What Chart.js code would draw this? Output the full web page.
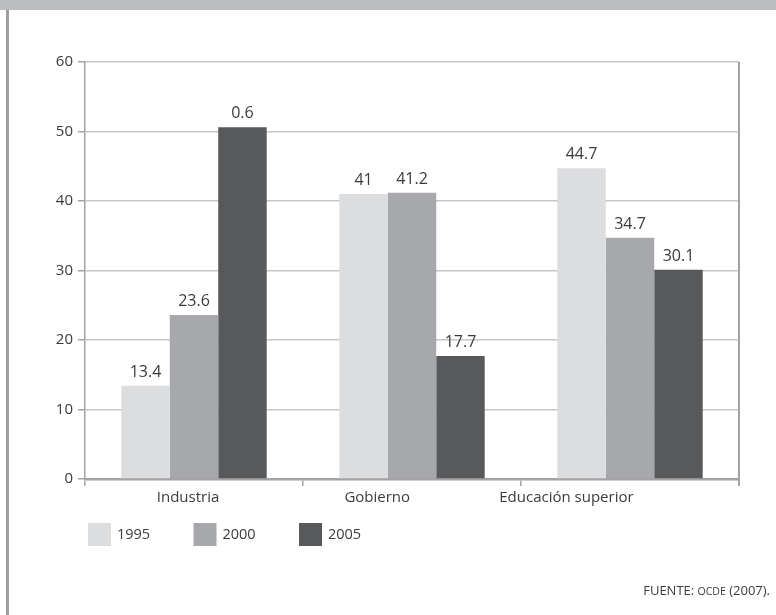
<!DOCTYPE html>
<html>
<head>
<meta charset="utf-8">
<script src="https://cdn.jsdelivr.net/npm/chart.js@4/dist/chart.umd.min.js"></script>
<style>
  html, body { margin: 0; padding: 0; background: #ffffff; }
  #wrap { position: relative; width: 776px; height: 615px; }
  canvas { display: block; }
</style>
</head>
<body>
<div id="wrap"><canvas id="c" width="776" height="615"></canvas></div>
<script>
// Sectors and yearly shares
const categories = ['Industria', 'Gobierno', 'Educación superior'];
const years = ['1995', '2000', '2005'];
const values1995 = [13.4, 41, 44.7];
const values2000 = [23.6, 41.2, 34.7];
const values2005 = [50.6, 17.7, 30.1];
// Printed value labels, as they appear above each bar
const labels1995 = ['13.4', '41', '44.7'];
const labels2000 = ['23.6', '41.2', '34.7'];
const labels2005 = ['0.6', '17.7', '30.1'];
const yTicks = [0, 10, 20, 30, 40, 50, 60];
const sourceNote = ['FUENTE: ', 'OCDE', ' (2007).'];

const FONT = '"Open Sans", "Noto Sans", sans-serif';
const TEXT = '#3b3b3b';
const colors = ['#dcdddf', '#a7a8ab', '#58595b'];

const seriesValues = [values1995, values2000, values2005];
const seriesLabels = [labels1995, labels2000, labels2005];

// Category captions sit slightly left of each group, on a tighter pitch
const CAPTION_SHIFT = -6;
const CAPTION_PITCH = 0.868;

const decorations = {
  id: 'decorations',
  beforeDraw(chart) {
    const ctx = chart.ctx;
    ctx.save();
    // header band
    ctx.fillStyle = '#bcbdc0';
    ctx.fillRect(0, 0, chart.width, 10);
    // left page rule
    ctx.fillStyle = '#9e9e9e';
    ctx.fillRect(6, 10, 3, chart.height - 10);
    ctx.restore();
  },
  afterDraw(chart) {
    const ctx = chart.ctx;
    const area = chart.chartArea;
    const xs = chart.scales.x;
    ctx.save();
    // plot frame: right edge
    ctx.strokeStyle = '#a3a3a3';
    ctx.lineWidth = 2;
    ctx.beginPath();
    ctx.moveTo(area.right, area.top);
    ctx.lineTo(area.right, area.bottom + 7);
    ctx.stroke();

    // category captions
    ctx.fillStyle = TEXT;
    ctx.font = '15px ' + FONT;
    ctx.textAlign = 'center';
    ctx.textBaseline = 'middle';
    const first = xs.getPixelForValue(0);
    const pitch = (xs.getPixelForValue(1) - first) * CAPTION_PITCH;
    chart.data.labels.forEach((lab, i) => {
      ctx.fillText(lab, first + CAPTION_SHIFT + i * pitch, area.bottom + 19);
    });

    // value labels above bars
    ctx.font = '16px ' + FONT;
    ctx.textBaseline = 'alphabetic';
    chart.data.datasets.forEach((ds, di) => {
      chart.getDatasetMeta(di).data.forEach((bar, i) => {
        ctx.fillText(seriesLabels[di][i], bar.x, bar.y - 9);
      });
    });

    // legend
    const legendY = 523;
    const startX = 88;
    const step = 105.5;
    ctx.font = '14.5px ' + FONT;
    ctx.textAlign = 'left';
    ctx.textBaseline = 'middle';
    chart.data.datasets.forEach((ds, di) => {
      const x = startX + di * step;
      ctx.fillStyle = ds.backgroundColor;
      ctx.fillRect(x, legendY, 23, 23);
      ctx.fillStyle = TEXT;
      ctx.fillText(ds.label, x + 29, legendY + 12);
    });

    // source note, right aligned
    const right = 770;
    const baseY = 595;
    ctx.textBaseline = 'alphabetic';
    const big = '13px ' + FONT;
    const small = '10.5px ' + FONT;
    ctx.font = big; const w1 = ctx.measureText(sourceNote[0]).width;
    ctx.font = small; const w2 = ctx.measureText(sourceNote[1]).width;
    ctx.font = big; const w3 = ctx.measureText(sourceNote[2]).width;
    let x = right - (w1 + w2 + w3);
    ctx.fillStyle = TEXT;
    ctx.font = big; ctx.fillText(sourceNote[0], x, baseY); x += w1;
    ctx.font = small; ctx.fillText(sourceNote[1], x, baseY); x += w2;
    ctx.font = big; ctx.fillText(sourceNote[2], x, baseY);
    ctx.restore();
  }
};

new Chart(document.getElementById('c'), {
  type: 'bar',
  data: {
    labels: categories,
    datasets: years.map((y, i) => ({
      label: y,
      data: seriesValues[i],
      backgroundColor: colors[i],
      borderWidth: 0,
      categoryPercentage: 0.667,
      barPercentage: 1.0
    }))
  },
  options: {
    responsive: false,
    animation: false,
    devicePixelRatio: 1,
    layout: { padding: { left: 0, right: 37, top: 62, bottom: 96 } },
    plugins: {
      legend: { display: false },
      tooltip: { enabled: false },
      title: { display: false }
    },
    scales: {
      x: {
        offset: true,
        grid: {
          offset: true,
          drawOnChartArea: false,
          drawTicks: true,
          tickLength: 7,
          color: '#a3a3a3',
          lineWidth: 1.5
        },
        border: { display: true, color: '#a3a3a3', width: 2.5 },
        ticks: { display: false },
        afterFit(scale) { scale.height = 40; }
      },
      y: {
        min: 0,
        max: 60,
        afterBuildTicks(scale) { scale.ticks = yTicks.map(v => ({ value: v })); },
        grid: {
          color: '#c6c6c6',
          lineWidth: 1.5,
          drawTicks: true,
          tickLength: 7,
          tickColor: '#a3a3a3'
        },
        border: { display: true, color: '#a3a3a3', width: 1.5 },
        ticks: { color: TEXT, font: { family: FONT, size: 15 }, padding: 5 },
        afterFit(scale) { scale.width = 85; }
      }
    }
  },
  plugins: [decorations]
});
</script>
</body>
</html>
